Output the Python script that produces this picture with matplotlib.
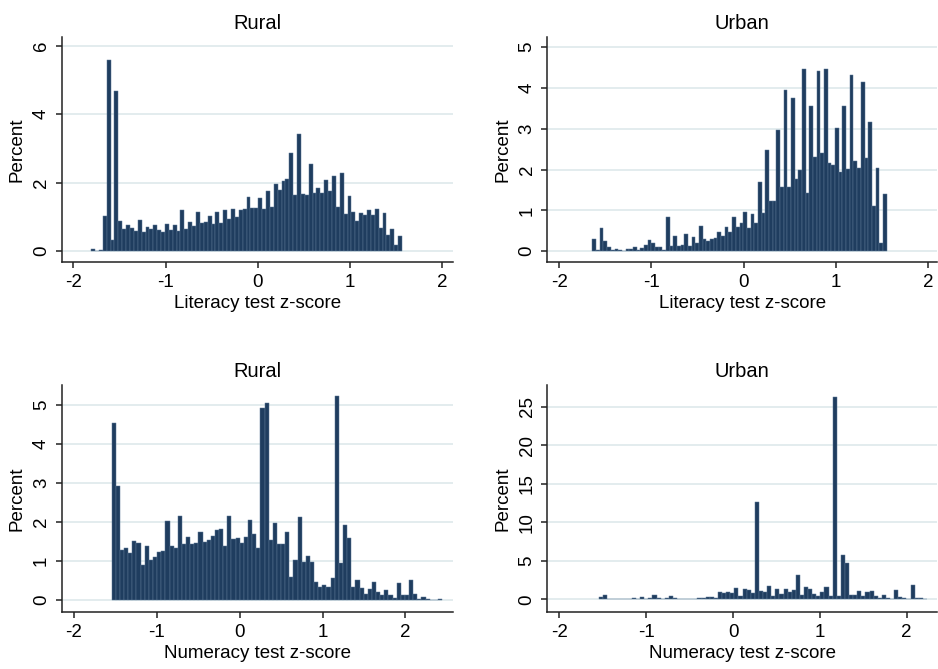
import numpy as np
import matplotlib
matplotlib.use("Agg")
import matplotlib.pyplot as plt

plt.rcParams['font.family'] = ['Liberation Sans', 'DejaVu Sans']

# ---------------- data (percent per bin) ----------------
lit_rural_start, lit_rural_width = -1.807, 0.04215
lit_rural = [0.05, 0.0, 0.03,
             1.03, 5.60, 0.32, 4.69, 0.89, 0.64, 0.77, 0.68, 0.59, 0.92,
             0.54, 0.71, 0.65, 0.75, 0.62, 0.54, 0.79, 0.62, 0.75, 0.58,
             1.19, 0.65, 0.86, 0.74, 1.13, 0.81, 0.86, 1.01, 0.79, 1.15,
             0.83, 1.21, 0.94, 1.23, 1.00, 1.19, 1.23, 1.59, 1.25, 1.25,
             1.55, 1.22, 1.75, 1.30, 1.97, 1.79, 2.05, 2.11, 2.88, 1.63,
             3.43, 1.66, 1.63, 2.55, 1.70, 1.85, 1.70, 2.08, 1.75, 2.18,
             1.30, 2.27, 1.08, 1.61, 1.15, 0.88, 1.11, 1.06, 1.20, 1.06,
             1.22, 0.68, 1.11, 0.47, 0.64, 0.16, 0.45]

lit_urban_start, lit_urban_width = -1.64, 0.0399
lit_urban = [0.29, 0.02, 0.56, 0.24, 0.11, 0.03, 0.05, 0.03, 0.0, 0.05,
             0.05, 0.11, 0.03, 0.07, 0.15, 0.27, 0.21, 0.11, 0.11, 0.03,
             0.83, 0.12, 0.37, 0.13, 0.16, 0.41, 0.13, 0.34, 0.20, 0.61,
             0.29, 0.24, 0.30, 0.33, 0.48, 0.38, 0.59, 0.46, 0.83, 0.59,
             0.69, 0.96, 0.56, 0.92, 0.70, 1.69, 0.94, 2.47, 1.23, 1.23,
             2.98, 1.56, 3.95, 1.56, 3.76, 1.77, 1.99, 4.46, 1.42, 3.55,
             2.31, 4.41, 2.41, 4.46, 2.17, 2.10, 3.03, 1.95, 3.55, 2.02,
             4.33, 2.22, 2.04, 4.14, 2.29, 3.17, 1.11, 2.04, 0.20, 1.39]

num_rural_start, num_rural_width = -1.5425, 0.0498
num_rural = [4.53, 2.91, 1.27, 1.34, 1.21, 1.50, 1.45, 0.89, 1.39, 1.03,
             1.11, 1.24, 1.25, 2.02, 1.38, 1.32, 2.16, 1.44, 1.62, 1.44,
             1.47, 1.73, 1.49, 1.53, 1.65, 1.79, 1.83, 1.38, 2.16, 1.56,
             1.60, 1.46, 1.62, 2.05, 1.68, 1.32,
             4.91, 5.04, 1.53, 1.98, 1.43, 1.44, 1.74, 0.58, 1.03, 2.12,
             0.97, 1.12, 0.97, 0.46, 0.34, 0.39, 0.34, 0.56, 5.23, 0.94,
             1.91, 1.59, 0.32, 0.51, 0.30, 0.16, 0.28, 0.45, 0.20, 0.13,
             0.26, 0.13, 0.04, 0.43, 0.13, 0.13, 0.50, 0.16, 0.03, 0.07,
             0.03, 0.0, 0.0, 0.03]

num_urban_start, num_urban_width = -1.543, 0.0472
num_urban = [0.30, 0.55, 0.10, 0.10, 0.05, 0.10, 0.05, 0.10, 0.15, 0.10,
             0.30, 0.10, 0.15, 0.60, 0.15, 0.10, 0.20, 0.40, 0.15, 0.10,
             0.10, 0.05, 0.05, 0.10, 0.20, 0.15, 0.35, 0.30, 0.15, 1.00,
             0.80, 0.90,
             0.78, 1.47, 0.39, 1.38, 1.21, 0.78, 12.6, 1.08, 0.95, 1.77,
             0.47, 1.29, 0.73, 1.38, 0.91, 1.21, 3.15, 0.56, 1.64, 1.38,
             0.65, 0.39, 0.95, 1.59, 0.47, 26.3, 0.43, 5.78, 4.74, 0.60,
             0.52, 1.08, 0.39, 0.91, 1.08, 0.39, 0.22, 0.52, 0.22, 0.09,
             1.16, 0.26, 0.22, 0.05, 1.85, 0.22, 0.17, 0.09]

titles = ['Rural', 'Urban', 'Rural', 'Urban']
xlabels = ['Literacy test z-score', 'Literacy test z-score',
           'Numeracy test z-score', 'Numeracy test z-score']
x_ticks = [-2, -1, 0, 1, 2]
y_ticks = [[0, 2, 4, 6], [0, 1, 2, 3, 4, 5], [0, 1, 2, 3, 4, 5],
           [0, 5, 10, 15, 20, 25]]

# ---------------- styling / layout ----------------
BAR = '#1f3d5f'
EDGE = '#5a7694'
GRID = '#e3ecee'
AX = '#222222'

fig = plt.figure(figsize=(9.38, 6.69), dpi=100)

panels = [
    (lit_rural, lit_rural_start, lit_rural_width,
     [0.0658, 0.6088, 0.4169, 0.3359], (-2.126, 2.116), (-0.315, 6.26)),
    (lit_urban, lit_urban_start, lit_urban_width,
     [0.5835, 0.6088, 0.4155, 0.3359], (-2.13, 2.10), (-0.26, 5.25)),
    (num_rural, num_rural_start, num_rural_width,
     [0.0658, 0.0848, 0.4169, 0.3397], (-2.145, 2.57), (-0.315, 5.51)),
    (num_urban, num_urban_start, num_urban_width,
     [0.5835, 0.0848, 0.4155, 0.3397], (-2.14, 2.35), (-1.68, 27.8)),
]

for i, (vals, start, width, pos, xl, yl) in enumerate(panels):
    ax = fig.add_axes(pos)
    vals = np.asarray(vals)
    edges = start + width * np.arange(len(vals))
    ax.bar(edges, vals, width=width, align='edge', color=BAR,
           edgecolor=EDGE, linewidth=0.35, zorder=2)
    ax.set_xlim(*xl)
    ax.set_ylim(*yl)
    ax.set_xticks(x_ticks)
    ax.set_xticklabels([str(t) for t in x_ticks])
    ax.set_yticks(y_ticks[i])
    ax.set_yticklabels([str(t) for t in y_ticks[i]], rotation=90, va='center')
    ax.yaxis.grid(True, color=GRID, linewidth=1.4, zorder=0)
    ax.set_axisbelow(True)
    for s in ['top', 'right']:
        ax.spines[s].set_visible(False)
    for s in ['left', 'bottom']:
        ax.spines[s].set_color(AX)
        ax.spines[s].set_linewidth(1.1)
    ax.tick_params(direction='out', length=4.5, width=1.1, color=AX,
                   labelsize=13.5, pad=4)
    ax.set_ylabel('Percent', fontsize=13.5, labelpad=5)
    ax.set_xlabel(xlabels[i], fontsize=13.5, labelpad=3)
    ax.set_title(titles[i], fontsize=14.5, pad=6)

fig.savefig('out.png', dpi=100, facecolor='white')
